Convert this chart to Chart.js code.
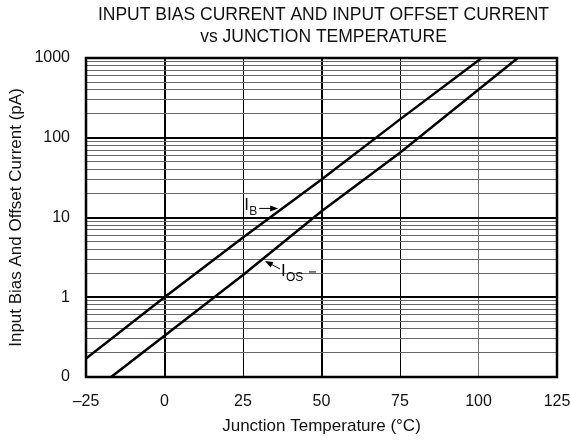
<!DOCTYPE html>
<html>
<head>
<meta charset="utf-8">
<script src="https://cdn.jsdelivr.net/npm/chart.js@4/dist/chart.umd.min.js"></script>
<style>
  html, body { margin: 0; padding: 0; background: #fff; }
  #wrap { width: 570px; height: 445px; }
</style>
</head>
<body>
<div id="wrap"><canvas id="c" width="570" height="445"></canvas></div>
<script>
// values (temperature in degC, current in pA)
var ibTemps = [-25, 0, 25, 50, 75, 101];
var ibValues = [0.17, 1, 5.6, 30, 170, 1000];

var iosTemps = [-17, 0, 25, 50, 75, 112.5];
var iosValues = [0.1, 0.33, 1.9, 12, 65, 1000];

var xTicks = [-25, 0, 25, 50, 75, 100, 125];
var yTicks = [0.1, 0.2, 0.3, 0.4, 0.5, 0.6, 0.7, 0.8, 0.9,
              1, 2, 3, 4, 5, 6, 7, 8, 9,
              10, 20, 30, 40, 50, 60, 70, 80, 90,
              100, 200, 300, 400, 500, 600, 700, 800, 900, 1000];
var yLabels = { '0.1': '0', '1': '1', '10': '10', '100': '100', '1000': '1000' };

var titleLines = ['INPUT BIAS CURRENT AND INPUT OFFSET CURRENT', 'vs JUNCTION TEMPERATURE'];

function toPoints(xs, ys) {
  var pts = [];
  for (var i = 0; i < xs.length; i++) {
    pts.push({ x: xs[i], y: ys[i] });
  }
  return pts;
}

function isDecade(v) {
  return yLabels[String(v)] !== undefined;
}

var font = 'Liberation Sans, Arial, sans-serif';

// title, frame and the IB / IOS callouts
var extras = {
  id: 'extras',
  afterDraw: function(chart) {
    var ctx = chart.ctx;
    var a = chart.chartArea;
    var xs = chart.scales.x, ys = chart.scales.y;
    ctx.save();

    ctx.fillStyle = '#111';
    ctx.font = '17.5px ' + font;
    ctx.textAlign = 'center';
    ctx.textBaseline = 'middle';
    var cx = (a.left + a.right) / 2 + 2;
    ctx.fillText(titleLines[0], cx, 15);
    ctx.fillText(titleLines[1], cx, 37);

    ctx.strokeStyle = '#000';
    ctx.lineWidth = 2.5;
    ctx.strokeRect(a.left, a.top, a.right - a.left, a.bottom - a.top);

    // IB label
    var bx = xs.getPixelForValue(25.4), by = ys.getPixelForValue(13);
    ctx.textAlign = 'left';
    ctx.textBaseline = 'alphabetic';
    ctx.font = '17px ' + font;
    ctx.fillText('I', bx, by + 2);
    ctx.font = '12px ' + font;
    ctx.fillText('B', bx + 5, by + 7);
    arrow(ctx, bx + 15, by, xs.getPixelForValue(36.2), by);

    // IOS label
    var ox = xs.getPixelForValue(37.1), oy = ys.getPixelForValue(1.85);
    ctx.font = '17px ' + font;
    ctx.fillText('I', ox, oy);
    ctx.font = '12px ' + font;
    ctx.fillText('OS', ox + 5, oy + 5);
    arrow(ctx, ox - 1, oy - 7, xs.getPixelForValue(32), ys.getPixelForValue(2.85));
    ctx.strokeStyle = '#000';
    ctx.lineWidth = 1;
    ctx.beginPath();
    ctx.moveTo(ox + 28, oy - 4);
    ctx.lineTo(ox + 35, oy - 4);
    ctx.stroke();

    ctx.restore();
  }
};

function arrow(ctx, x1, y1, x2, y2) {
  var ang = Math.atan2(y2 - y1, x2 - x1);
  ctx.strokeStyle = '#000';
  ctx.fillStyle = '#000';
  ctx.lineWidth = 1;
  ctx.beginPath();
  ctx.moveTo(x1, y1);
  ctx.lineTo(x2 - 5 * Math.cos(ang), y2 - 5 * Math.sin(ang));
  ctx.stroke();
  ctx.beginPath();
  ctx.moveTo(x2, y2);
  ctx.lineTo(x2 - 8 * Math.cos(ang) + 3 * Math.sin(ang), y2 - 8 * Math.sin(ang) - 3 * Math.cos(ang));
  ctx.lineTo(x2 - 8 * Math.cos(ang) - 3 * Math.sin(ang), y2 - 8 * Math.sin(ang) + 3 * Math.cos(ang));
  ctx.closePath();
  ctx.fill();
}

var ctx = document.getElementById('c').getContext('2d');
var myChart = new Chart(ctx, {
  type: 'line',
  data: {
    datasets: [
      { label: 'IB', data: toPoints(ibTemps, ibValues), borderColor: '#000', borderWidth: 2.5, pointRadius: 0, tension: 0 },
      { label: 'IOS', data: toPoints(iosTemps, iosValues), borderColor: '#000', borderWidth: 2.5, pointRadius: 0, tension: 0 }
    ]
  },
  options: {
    responsive: false,
    animation: false,
    events: [],
    layout: { padding: { top: 58, right: 0, bottom: 8, left: 0 } },
    plugins: { legend: { display: false }, tooltip: { enabled: false }, title: { display: false } },
    scales: {
      x: {
        type: 'linear',
        min: -25,
        max: 125,
        afterBuildTicks: function(axis) {
          axis.ticks = xTicks.map(function(v) { return { value: v }; });
        },
        afterFit: function(axis) {
          axis.height = 60;
          axis.paddingLeft = 0;
          axis.paddingRight = 13;
        },
        ticks: {
          color: '#111',
          font: { family: font, size: 16 },
          padding: 15,
          maxRotation: 0,
          callback: function(v) { return v < 0 ? '\u2013' + Math.abs(v) : String(v); }
        },
        grid: {
          drawTicks: false,
          color: function(c) { return c.tick && c.tick.value === 100 ? '#777' : '#000'; },
          lineWidth: function(c) { return c.tick && (c.tick.value === 0 || c.tick.value === 50) ? 2 : 1; }
        },
        border: { display: false },
        title: {
          display: true,
          text: 'Junction Temperature (\u00b0C)',
          color: '#111',
          font: { family: font, size: 17 },
          padding: { top: 5, bottom: 0 }
        }
      },
      y: {
        type: 'logarithmic',
        min: 0.1,
        max: 1000,
        afterBuildTicks: function(axis) {
          axis.ticks = yTicks.map(function(v) { return { value: v }; });
        },
        afterFit: function(axis) {
          axis.width = 86;
          axis.paddingTop = 0;
          axis.paddingBottom = 0;
        },
        ticks: {
          color: '#111',
          font: { family: font, size: 16 },
          padding: 16,
          autoSkip: false,
          callback: function(v) { var s = yLabels[String(v)]; return s === undefined ? '' : s; }
        },
        grid: {
          drawTicks: false,
          color: function(c) { return c.tick && isDecade(c.tick.value) ? '#000' : '#666'; },
          lineWidth: function(c) { return c.tick && isDecade(c.tick.value) ? 2 : 1; }
        },
        border: { display: false },
        title: {
          display: true,
          text: 'Input Bias And Offset Current (pA)',
          color: '#111',
          font: { family: font, size: 17 },
          padding: { top: 6, bottom: 0 }
        }
      }
    }
  },
  plugins: [extras]
});
</script>
</body>
</html>
